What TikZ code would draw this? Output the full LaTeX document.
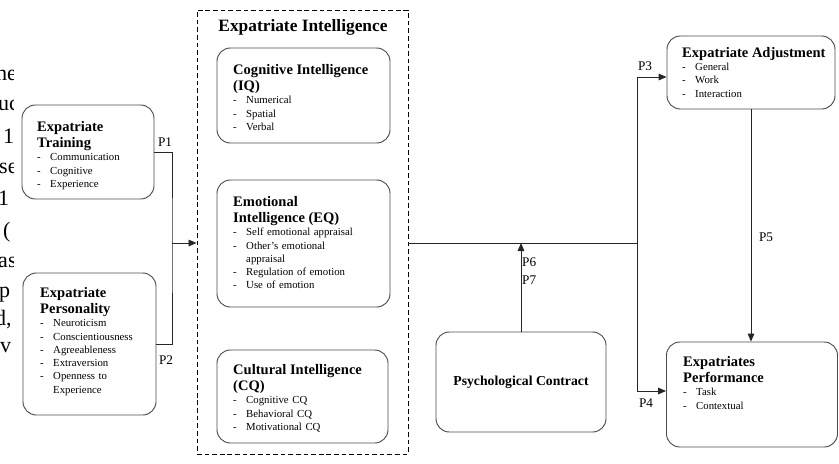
\documentclass[tikz,border=0pt]{standalone}
\usepackage{fontspec}
\setmainfont{Liberation Serif}
\usepackage{tikz}
\usetikzlibrary{shapes,arrows.meta}
\usetikzlibrary{positioning}
\setlength{\parindent}{0pt}
\setlength{\parskip}{0pt}
\newcommand{\boxtitle}{\bfseries\fontsize{12.4}{14}\selectfont}
\newcommand{\itemfont}{\fontsize{9.2}{11.3}\selectfont}
\newcommand{\itm}[1]{\makebox[0.39cm][l]{-}#1}
\tikzstyle{block} = [rectangle, draw=black!70, line width=0.8pt, rounded corners=0.4cm]
\tikzstyle{dashbox} = [rectangle, draw, line width=0.8pt, dash pattern=on 4pt off 2.5pt]
\tikzstyle{blocktext} = [anchor=north west, inner sep=0pt, text width=4.9cm, align=left, font=\itemfont]
\tikzstyle{line} = [draw=black!85, line width=0.8pt]
\tikzstyle{arrow} = [draw=black!85, line width=0.8pt, -{Triangle[length=0.24cm, width=0.2cm]}]
\tikzstyle{plabel} = [inner sep=0pt, font=\fontsize{11.3}{12}\selectfont]
\tikzstyle{fragment} = [anchor=base west, inner sep=0pt, font=\fontsize{18.8}{20}\selectfont]

\begin{document}
\begin{tikzpicture}[x=0.03cm, y=-0.03cm]
\useasboundingbox (0, 0) rectangle (839, 463);

%% cut-off page text on the left
\begin{scope}
\clip (0, 0) rectangle (13, 463);
\node[fragment] at (-4, 80) (f1) {he};
\node[fragment] at (-2, 110) (f2) {uc};
\node[fragment] at (3, 143) (f3) {1};
\node[fragment] at (-1, 173) (f4) {se};
\node[fragment] at (-2, 205) (f5) {1};
\node[fragment] at (3, 237) (f6) {(};
\node[fragment] at (-2, 267) (f7) {as};
\node[fragment] at (-1, 297) (f8) {p};
\node[fragment] at (-5, 325) (f9) {d,};
\node[fragment] at (0, 352) (f10) {v};
\end{scope}

%% left blocks
\node[block, minimum width=3.96cm, minimum height=2.82cm] at (88, 152) (train) {};
\node[blocktext] at (37, 121) (train-txt) {{\boxtitle Expatriate\\Training\par}
\itm{Communication}\\\itm{Cognitive}\\\itm{Experience}};

\node[block, minimum width=3.99cm, minimum height=4.26cm] at (89.5, 344) (pers) {};
\node[blocktext] at (40, 287) (pers-txt) {{\boxtitle Expatriate\\Personality\par}
\itm{Neuroticism}\\\itm{Conscientiousness}\\\itm{Agreeableness}\\\itm{Extraversion}\\
\itm{Openness to}\\\hspace*{0.39cm}Experience};

%% expatriate intelligence
\node[dashbox, minimum width=6.33cm, minimum height=13.32cm] at (302.5, 232) (EI) {};
\node at (303, 27) (EI-title) {\bfseries\fontsize{14.8}{16}\selectfont Expatriate Intelligence};

\node[block, minimum width=5.19cm, minimum height=2.85cm] at (303.5, 95.5) (IQ) {};
\node[blocktext] at (233, 64) (IQ-txt) {{\boxtitle Cognitive Intelligence\\(IQ)\par}
\itm{Numerical}\\\itm{Spatial}\\\itm{Verbal}};

\node[block, minimum width=5.19cm, minimum height=3.81cm] at (303.5, 243.5) (EQ) {};
\node[blocktext] at (233, 196) (EQ-txt) {{\boxtitle Emotional\\Intelligence (EQ)\par}
\itm{Self emotional appraisal}\\\itm{Other’s emotional}\\\hspace*{0.39cm}appraisal\\
\itm{Regulation of emotion}\\\itm{Use of emotion}};

\node[block, minimum width=5.13cm, minimum height=2.79cm] at (302.5, 396.5) (CQ) {};
\node[blocktext] at (233, 364) (CQ-txt) {{\boxtitle Cultural Intelligence\\(CQ)\par}
\itm{Cognitive CQ}\\\itm{Behavioral CQ}\\\itm{Motivational CQ}};

%% psychological contract
\node[block, minimum width=5.1cm, minimum height=3cm] at (521, 382) (PC)
  {\bfseries\fontsize{11.7}{13}\selectfont Psychological Contract};

%% outcomes
\node[block, minimum width=5.04cm, minimum height=2.19cm] at (751, 72.5) (adj) {};
\node[blocktext] at (682, 47) (adj-txt) {{\boxtitle Expatriate Adjustment\par}
\itm{General}\\\itm{Work}\\\itm{Interaction}};

\node[block, minimum width=5.13cm, minimum height=3.15cm] at (752, 394.5) (perf) {};
\node[blocktext] at (683, 356) (perf-txt) {{\boxtitle Expatriates\\Performance\par}
\itm{Task}\\\itm{Contextual}};

%% connectors
\coordinate (jl) at (172, 243);
\coordinate (jr) at (637, 243);
\path[line] (train.east) -| (jl) |- (pers.east);
\path[arrow] (jl) -- (jl -| EI.west);
\path[line] (jl -| EI.east) -- (jr);
\path[arrow] (jr) |- ([yshift=-0.135cm]adj.west);
\path[arrow] (jr) |- ([yshift=0.105cm]perf.west);
\path[arrow] (PC.north) -- (PC.north |- jr);
\path[arrow] (adj.south) -- (adj.south |- perf.north);

%% propositions
\node[plabel] at (165, 142) (p1) {P1};
\node[plabel] at (166, 360) (p2) {P2};
\node[plabel] at (645, 66) (p3) {P3};
\node[plabel] at (646, 403) (p4) {P4};
\node[plabel] at (766, 237) (p5) {P5};
\node[plabel, anchor=west] at (522, 262) (p6) {P6};
\node[plabel, anchor=west] at (522, 280) (p7) {P7};
\end{tikzpicture}
\end{document}
